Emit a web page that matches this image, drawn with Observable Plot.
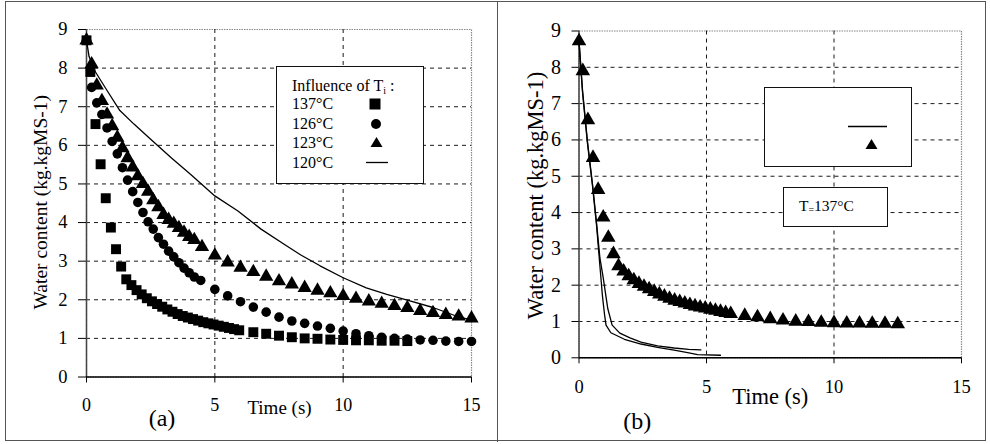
<!DOCTYPE html>
<html>
<head>
<meta charset="utf-8">
<script src="https://cdn.jsdelivr.net/npm/d3@7"></script>
<script src="https://cdn.jsdelivr.net/npm/@observablehq/plot@0.6"></script>
<style>
  body { margin: 0; background: #fff; }
  #wrap { position: relative; width: 990px; height: 444px; background: #fff; overflow: hidden; font-family: "Liberation Serif", "Times New Roman", serif; color: #000; }
  #wrap svg, #wrap svg g, #wrap svg text { font-family: "Liberation Serif", "Times New Roman", serif !important; }
  .abs { position: absolute; }
  .box { position: absolute; border: 1.5px solid #111; box-sizing: border-box; background: #fff; }
  .lg { position: absolute; font-size: 16px; line-height: 18px; white-space: nowrap; }
  sub { font-size: 10px; vertical-align: -3px; line-height: 0; }
</style>
</head>
<body>
<div id="wrap">
  <div class="abs" style="left:5px;top:1px;width:981px;height:440px;border:1.5px solid #555;box-sizing:border-box;"></div>
  <div class="abs" style="left:497px;top:1px;width:0;height:441px;border-left:1.5px solid #555;"></div>
  <div id="a" class="abs" style="left:0;top:0;"></div>
  <div id="b" class="abs" style="left:495px;top:0;"></div>
  <div id="legA" class="box" style="left:276px;top:65.7px;width:148px;height:118px;"></div>
  <div id="legB1" class="box" style="left:764px;top:87px;width:148px;height:80px;"></div>
  <div id="legB2" class="box" style="left:783px;top:187px;width:105px;height:40px;"></div>
</div>
<script>
// ---------- Data ----------
// (a) Influence of Ti : 137°C (squares)
const t137 = [0, 0.15, 0.35, 0.55, 0.75, 0.95, 1.15, 1.35, 1.55, 1.75, 1.95, 2.15, 2.35, 2.55, 2.75, 2.95, 3.15, 3.35, 3.55, 3.75, 3.95, 4.15, 4.35, 4.55, 4.75, 4.95, 5.15, 5.35, 5.55, 5.75, 5.95, 6.5, 7, 7.5, 8, 8.5, 9, 9.5, 10, 10.5, 11, 11.5, 12, 12.5];
const w137 = [8.72, 7.9, 6.55, 5.51, 4.63, 3.87, 3.31, 2.86, 2.53, 2.38, 2.25, 2.14, 2.04, 1.96, 1.89, 1.82, 1.75, 1.69, 1.63, 1.58, 1.54, 1.5, 1.46, 1.42, 1.39, 1.36, 1.33, 1.3, 1.27, 1.24, 1.21, 1.16, 1.12, 1.07, 1.03, 1.0, 0.99, 0.97, 0.96, 0.95, 0.95, 0.94, 0.94, 0.93];
// 126°C (circles)
const t126 = [0, 0.2, 0.4, 0.6, 0.8, 1.0, 1.2, 1.4, 1.6, 1.8, 2.0, 2.2, 2.4, 2.6, 2.8, 3.0, 3.2, 3.4, 3.6, 3.8, 4.0, 4.2, 4.45, 5, 5.5, 6, 6.5, 7, 7.5, 8, 8.5, 9, 9.5, 10, 10.5, 11, 11.5, 12, 12.5, 13, 13.5, 14, 14.5, 15];
const w126 = [8.72, 7.5, 7.1, 6.8, 6.45, 6.1, 5.78, 5.42, 5.1, 4.8, 4.52, 4.26, 4.02, 3.83, 3.61, 3.44, 3.26, 3.11, 2.96, 2.82, 2.7, 2.59, 2.5, 2.27, 2.1, 1.95, 1.81, 1.68, 1.55, 1.45, 1.39, 1.32, 1.26, 1.19, 1.12, 1.07, 1.03, 1.0, 0.98, 0.96, 0.95, 0.93, 0.92, 0.92];
// 123°C (triangles)
const t123 = [0, 0.2, 0.4, 0.6, 0.8, 1.0, 1.2, 1.4, 1.6, 1.8, 2.0, 2.2, 2.4, 2.6, 2.8, 3.0, 3.2, 3.4, 3.6, 3.8, 4.0, 4.2, 4.5, 5, 5.5, 6, 6.5, 7, 7.5, 8, 8.5, 9, 9.5, 10, 10.5, 11, 11.5, 12, 12.5, 13, 13.5, 14, 14.5, 15];
const w123 = [8.72, 8.1, 7.55, 7.15, 6.8, 6.5, 6.2, 5.93, 5.67, 5.43, 5.2, 5.0, 4.8, 4.58, 4.4, 4.2, 4.07, 3.97, 3.86, 3.74, 3.63, 3.55, 3.37, 3.15, 2.97, 2.83, 2.72, 2.6, 2.48, 2.4, 2.31, 2.24, 2.17, 2.1, 2.03, 1.96, 1.9, 1.84, 1.79, 1.71, 1.66, 1.61, 1.57, 1.52];
// 120°C (line)
const t120 = [0, 0.1, 0.35, 0.8, 1.3, 1.85, 2.5, 3.3, 4.05, 5, 5.9, 6.8, 7.7, 8.35, 9.1, 10, 10.9, 11.7, 12.6, 13.5, 14.4, 15.05];
const w120 = [8.72, 8.3, 7.9, 7.42, 6.9, 6.55, 6.16, 5.68, 5.25, 4.69, 4.3, 3.83, 3.44, 3.16, 2.88, 2.57, 2.31, 2.14, 1.97, 1.8, 1.58, 1.46];
// (b) Ti = 137°C : measured (triangles) = same run as 137°C, and two simulated curves
const tB1 = [0, 0.14, 0.33, 0.53, 0.69, 0.82, 0.92, 1.0, 1.06, 1.25, 1.78, 2.43, 3.08, 3.73, 4.26, 4.65, 5.55];
const wB1 = [8.72, 7.3, 5.92, 4.73, 3.63, 2.53, 1.7, 1.2, 0.9, 0.69, 0.51, 0.38, 0.29, 0.21, 0.14, 0.09, 0.07];
const tB2 = [0, 0.14, 0.33, 0.53, 0.69, 0.82, 0.95, 1.13, 1.3, 1.6, 2.0, 2.43, 3.08, 3.73, 4.3, 4.78];
const wB2 = [8.72, 7.35, 5.97, 4.78, 3.7, 2.75, 2.2, 1.35, 0.9, 0.68, 0.55, 0.43, 0.33, 0.27, 0.23, 0.22];

const xTicks = [0, 5, 10, 15];
const yTicks = [0, 1, 2, 3, 4, 5, 6, 7, 8, 9];
const yGrid = [1, 2, 3, 4, 5, 6, 7, 8];
const xGrid = [5, 10];
const legendLabels = ["137°C", "126°C", "123°C", "120°C"];
const yTitle = "Water content (kg.kgMS-1)";
const xTitle = "Time (s)";

const zip = (ts, ws) => ts.map((t, i) => ({t, w: ws[i]}));
const d137 = zip(t137, w137), d126 = zip(t126, w126), d123 = zip(t123, w123), d120 = zip(t120, w120);
const dB1 = zip(tB1, wB1), dB2 = zip(tB2, wB2);

const FONT = "Liberation Serif";

function panel(opts) {
  return Plot.plot({
    width: 495, height: 444,
    marginLeft: opts.ml, marginRight: opts.mr, marginTop: opts.mt, marginBottom: opts.mb,
    style: {fontFamily: FONT, background: "transparent", overflow: "visible", color: "#000"},
    x: {domain: [0, 15], axis: null},
    y: {domain: [0, 9], axis: null},
    marks: [
      Plot.frame({stroke: "#888", strokeWidth: 1.2, strokeDasharray: "1.5,1"}),
      Plot.gridY(yGrid, {stroke: "#000", strokeOpacity: 1, strokeWidth: 0.9, strokeDasharray: "4,4"}),
      Plot.gridX(xGrid, {stroke: "#000", strokeOpacity: 1, strokeWidth: 0.9, strokeDasharray: "4,4"}),
      Plot.ruleX([0], {stroke: "#444", strokeWidth: 1.5}),
      Plot.ruleY([0], {stroke: "#000", strokeWidth: 1.5}),
      Plot.axisY({ticks: yTicks, tickSize: opts.yts, tickPadding: 11, fontSize: opts.yfs, fontFamily: FONT, tickFormat: d3.format("d"), label: null}),
      Plot.axisX({ticks: xTicks, tickSize: 6, tickPadding: opts.xtp, fontSize: opts.xfs, fontFamily: FONT, tickFormat: d3.format("d"), label: null}),
      ...opts.marks,
      Plot.text([yTitle], {frameAnchor: "left", dx: opts.ytdx, dy: opts.ytdy, rotate: -90, textAnchor: "middle", lineAnchor: "middle", fontSize: opts.ytfs, fontFamily: FONT}),
      Plot.text([xTitle], {frameAnchor: "bottom", dx: opts.xtdx, dy: opts.xtdy, textAnchor: "middle", lineAnchor: "middle", fontSize: opts.xtfs, fontFamily: FONT}),
      Plot.text([opts.tag], {frameAnchor: "bottom", dx: opts.tgdx, dy: opts.tgdy, textAnchor: "middle", lineAnchor: "middle", fontSize: opts.tgfs, fontFamily: FONT})
    ]
  });
}

const plotA = panel({
  ml: 86, mr: 24, mt: 29, mb: 67.5, yts: 8, yfs: 18.5, xfs: 18, xtp: 15.5,
  ytdx: -46, ytdy: -1, ytfs: 19.5, xtdx: 0.5, xtdy: 30.5, xtfs: 19, tag: "(a)", tgdx: -117, tgdy: 41.5, tgfs: 24,
  marks: [
    Plot.line(d120, {x: "t", y: "w", stroke: "#000", strokeWidth: 1.3}),
    Plot.dot(d123, {x: "t", y: "w", symbol: "triangle", r: 5.3, fill: "#000", stroke: null}),
    Plot.dot(d126, {x: "t", y: "w", symbol: "circle", r: 4.8, fill: "#000", stroke: null}),
    Plot.dot(d137, {x: "t", y: "w", symbol: "square", r: 5.6, fill: "#000", stroke: null})
  ]
});
document.getElementById("a").appendChild(plotA);

const plotB = panel({
  ml: 83.5, mr: 29, mt: 30.5, mb: 86.7, yts: 7, yfs: 20, xfs: 18.5, xtp: 16,
  ytdx: -43.5, ytdy: 1, ytfs: 22.5, xtdx: 0, xtdy: 38.7, xtfs: 22.5, tag: "(b)", tgdx: -133, tgdy: 63.7, tgfs: 24,
  marks: [
    Plot.line(dB1, {x: "t", y: "w", stroke: "#000", strokeWidth: 1.3}),
    Plot.line(dB2, {x: "t", y: "w", stroke: "#000", strokeWidth: 1.3}),
    Plot.dot(d137, {x: "t", y: "w", symbol: "triangle", r: 5.4, fill: "#000", stroke: null})
  ]
});
document.getElementById("b").appendChild(plotB);

// ---------- Legends ----------
const sq = `<svg width="12" height="12" style="position:absolute"><rect x="0.5" y="0.5" width="11" height="11" fill="#000"/></svg>`;
const ci = `<svg width="12" height="12" style="position:absolute"><circle cx="6" cy="6" r="5" fill="#000"/></svg>`;
const tri = `<svg width="13" height="12" style="position:absolute"><path d="M6.5,1 L12.5,11 L0.5,11 Z" fill="#000"/></svg>`;
const ln = (w) => `<svg width="${w}" height="3" style="position:absolute"><line x1="0" y1="1.5" x2="${w}" y2="1.5" stroke="#000" stroke-width="1.3"/></svg>`;

const legA = document.getElementById("legA");
const rows = [10, 28.5, 48, 67, 87.5];
let html = `<div class="lg" style="left:15px;top:${rows[0]}px">Influence of T<sub>i</sub> :</div>`;
legendLabels.forEach((lab, i) => {
  html += `<div class="lg" style="left:15px;top:${rows[i + 1]}px">${lab}</div>`;
});
html += `<div class="abs" style="left:91.5px;top:${rows[1] + 3}px">${sq}</div>`;
html += `<div class="abs" style="left:93px;top:${rows[2] + 3}px">${ci}</div>`;
html += `<div class="abs" style="left:93px;top:${rows[3] + 2}px">${tri}</div>`;
html += `<div class="abs" style="left:89px;top:${rows[4] + 7}px">${ln(22)}</div>`;
legA.innerHTML = html;

document.getElementById("legB1").innerHTML =
  `<div class="abs" style="left:83px;top:37px">${ln(39)}</div>` +
  `<div class="abs" style="left:100px;top:50px">${tri}</div>`;
document.getElementById("legB2").innerHTML =
  `<div class="lg" style="left:15px;top:9px;font-size:15.5px">T<span style="font-size:10px;position:relative;top:2px">=</span>137°C</div>`;
</script>
</body>
</html>
